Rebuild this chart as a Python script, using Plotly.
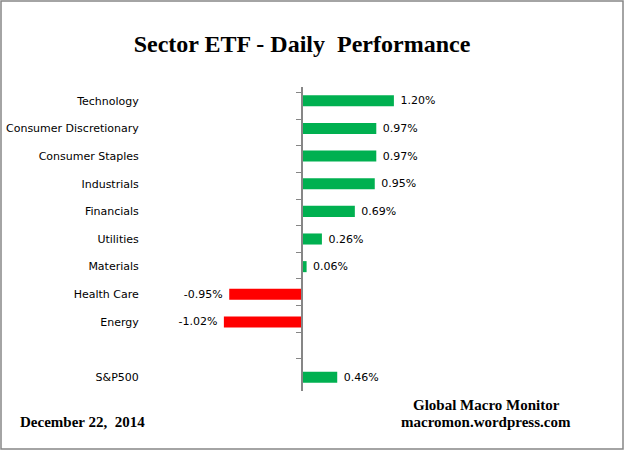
import plotly.graph_objects as go

categories = ["Technology", "Consumer Discretionary", "Consumer Staples", "Industrials",
              "Financials", "Utilities", "Materials", "Health Care", "Energy", " ", "S&P500"]
values = [1.20, 0.97, 0.97, 0.95, 0.69, 0.26, 0.06, -0.95, -1.02, None, 0.46]

GREEN = "#00B050"
RED = "#FF0000"
W, H = 625, 451
ML, MR, MT, MB = 145, 166, 87, 60
XR = 2.05

colors = [GREEN if (v is not None and v >= 0) else RED for v in values]
texts = []
for v in values:
    if v is None:
        texts.append("")
    elif v >= 0:
        texts.append(" %.2f%%" % v)
    else:
        texts.append("%.2f%% " % v)

fig = go.Figure()
fig.add_trace(go.Bar(
    x=[v if v is not None else 0 for v in values], y=categories, orientation="h",
    marker=dict(color=colors, line=dict(width=0)),
    text=texts, textposition="outside", cliponaxis=False, constraintext="none",
    textfont=dict(family="DejaVu Sans", size=11, color="#000000"),
    hoverinfo="skip", showlegend=False,
))
# invisible trace to carry the axis line with boundary ticks at x=0
fig.add_trace(go.Scatter(
    x=[0] * len(categories), y=categories, yaxis="y2", mode="markers",
    marker=dict(opacity=0), hoverinfo="skip", showlegend=False,
))

pw = W - ML - MR
ph = H - MT - MB
fig.update_layout(
    width=W, height=H,
    margin=dict(l=ML, r=MR, t=MT, b=MB, autoexpand=False),
    paper_bgcolor="white", plot_bgcolor="white",
    bargap=0.6,
    font=dict(family="DejaVu Sans", size=11, color="#000000"),
    xaxis=dict(range=[-XR, XR], showgrid=False, zeroline=False, showticklabels=False,
               showline=False, ticks="", automargin=False),
    yaxis=dict(type="category", categoryorder="array", categoryarray=categories,
               autorange="reversed", showgrid=False, zeroline=False, showline=False,
               ticks="outside", ticklen=3, tickcolor="rgba(0,0,0,0)", automargin=False,
               tickfont=dict(family="DejaVu Sans", size=11, color="#000000")),
    yaxis2=dict(type="category", categoryorder="array", categoryarray=categories,
                autorange="reversed", overlaying="y", anchor="free", position=0.5,
                side="left", showline=True, linecolor="#868686", linewidth=1.5,
                ticks="outside", ticklen=5, tickcolor="#868686", tickwidth=1,
                tickson="boundaries", showticklabels=False, showgrid=False, zeroline=False,
                automargin=False),
    title=dict(text="<b>Sector ETF - Daily  Performance</b>", x=(302) / W, xanchor="center",
               y=1 - 44 / H, yanchor="middle",
               font=dict(family="Liberation Serif", size=24, color="#000000")),
    annotations=[
        dict(text="<b>December 22,  2014</b>", xref="paper", yref="paper",
             x=(18 - ML) / pw, y=(H - MB - 422) / ph, xanchor="left", yanchor="middle",
             showarrow=False, font=dict(family="Liberation Serif", size=15, color="#000000")),
        dict(text="<b>Global Macro Monitor</b>", xref="paper", yref="paper",
             x=(486 - ML) / pw, y=(H - MB - 405) / ph, xanchor="center", yanchor="middle",
             showarrow=False, font=dict(family="Liberation Serif", size=15, color="#000000")),
        dict(text="<b>macromon.wordpress.com</b>", xref="paper", yref="paper",
             x=(486 - ML) / pw, y=(H - MB - 422) / ph, xanchor="center", yanchor="middle",
             showarrow=False, font=dict(family="Liberation Serif", size=15, color="#000000")),
    ],
    shapes=[dict(type="rect", xref="paper", yref="paper",
                 x0=(1 - ML) / pw, x1=(W - 2 - ML) / pw,
                 y0=(H - MB - (H - 2)) / ph, y1=(H - MB - 1) / ph,
                 line=dict(color="#868686", width=1.5), fillcolor="rgba(0,0,0,0)", layer="below")],
)

fig.write_html("out.html", config={"displayModeBar": False},
               post_script="document.body.style.margin='0px';")
